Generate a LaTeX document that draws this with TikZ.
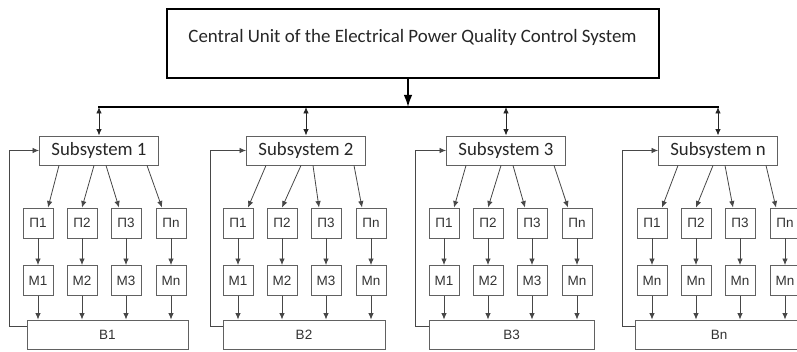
\documentclass[tikz,border=0pt]{standalone}
\usepackage{fontspec}
\setmainfont{Liberation Sans}
\newfontfamily\calfont{Carlito}
\usetikzlibrary{arrows.meta,calc}
\begin{document}
\begin{tikzpicture}[x=1pt,y=-1pt,
  boxline/.style={draw=black!62, line width=0.9pt},
  smallbox/.style={boxline, minimum width=30pt, minimum height=30pt, inner sep=0pt,
    font=\fontsize{13.5}{13.5}\selectfont, text=black!80},
  subbox/.style={boxline, minimum width=119pt, minimum height=29pt, inner sep=0pt,
    font=\calfont\fontsize{18.8}{18.8}\selectfont, text=black!85},
  blockbox/.style={boxline, minimum height=29pt, inner sep=0pt,
    font=\fontsize{13.5}{13.5}\selectfont, text=black!80},
  topbox/.style={draw=black, line width=1.6pt, minimum width=492pt, minimum height=69pt, inner sep=0pt},
  toptext/.style={font=\calfont\fontsize{18.9}{18.9}\selectfont, text=black!85, inner sep=0pt},
  arr/.style={draw=black!72, line width=0.8pt, -{Latex[length=6.5pt,width=5.5pt]}},
  dblarr/.style={draw=black!85, line width=0.9pt, {Latex[length=6.5pt,width=5.5pt]}-{Latex[length=6.5pt,width=5.5pt]}},
  busline/.style={draw=black, line width=1.8pt},
  bigarr/.style={draw=black, line width=1.6pt, -{Latex[length=12pt,width=8.5pt]}}
]
\useasboundingbox (0,0) rectangle (797,352);
\clip (0,0) rectangle (797,352);

% central unit
\node[topbox] (CU) at (413,43.5) {};
\node[toptext] (CUt) at (412.5,37) {Central Unit of the Electrical Power Quality Control System};

\foreach \g/\px/\sx/\bl/\br/\fx/\n in {1/23/99/27/188/9/1, 2/223/306/223/385/210/2, 3/429/506/429/594/415/3, 4/637/718/635/803/622/n}{
  \node[subbox] (S\g) at (\sx,150.5) {Subsystem \n};
  \coordinate (U\g) at (\sx,107);
  \foreach \k/\off/\pl in {1/0/1, 2/44/2, 3/88/3, 4/133/n}{
    \node[smallbox] (P\g\k) at (\px+15+\off,223) {П\pl};
    \node[smallbox] (M\g\k) at (\px+15+\off,280.5) {M\ifnum\g=4 n\else\pl\fi};
  }
  \node[blockbox, minimum width={(\br-\bl)*1pt}] (B\g) at ({(\bl+\br)/2},334.5) {B\n};
  \draw[dblarr] (U\g) -- (S\g.north);
  \draw[arr] ([xshift=-40pt]S\g.south) -- ([xshift=10pt]P\g1.north);
  \draw[arr] ([xshift=-5pt]S\g.south) -- (P\g2.north);
  \draw[arr] ([xshift=7pt]S\g.south) -- ([xshift=-7pt]P\g3.north);
  \draw[arr] ([xshift=48pt]S\g.south) -- ([xshift=-9pt]P\g4.north);
  \foreach \k in {1,2,3,4}{
    \draw[arr] (P\g\k.south) -- (M\g\k.north);
    \draw[arr] (M\g\k.south) -- (M\g\k.south |- B\g.north);
  }
  \coordinate (F\g) at (\fx,150.5);
  \draw[arr] ([yshift=-7pt]B\g.north west) -| (F\g) -- (S\g.west);
}

% bus
\draw[busline] ([xshift=-0.8pt]U1) -- ([xshift=0.8pt]U4);
\coordinate (C0) at (408,107);
\draw[bigarr] (CU.south -| C0) -- (C0);
\end{tikzpicture}
\end{document}
